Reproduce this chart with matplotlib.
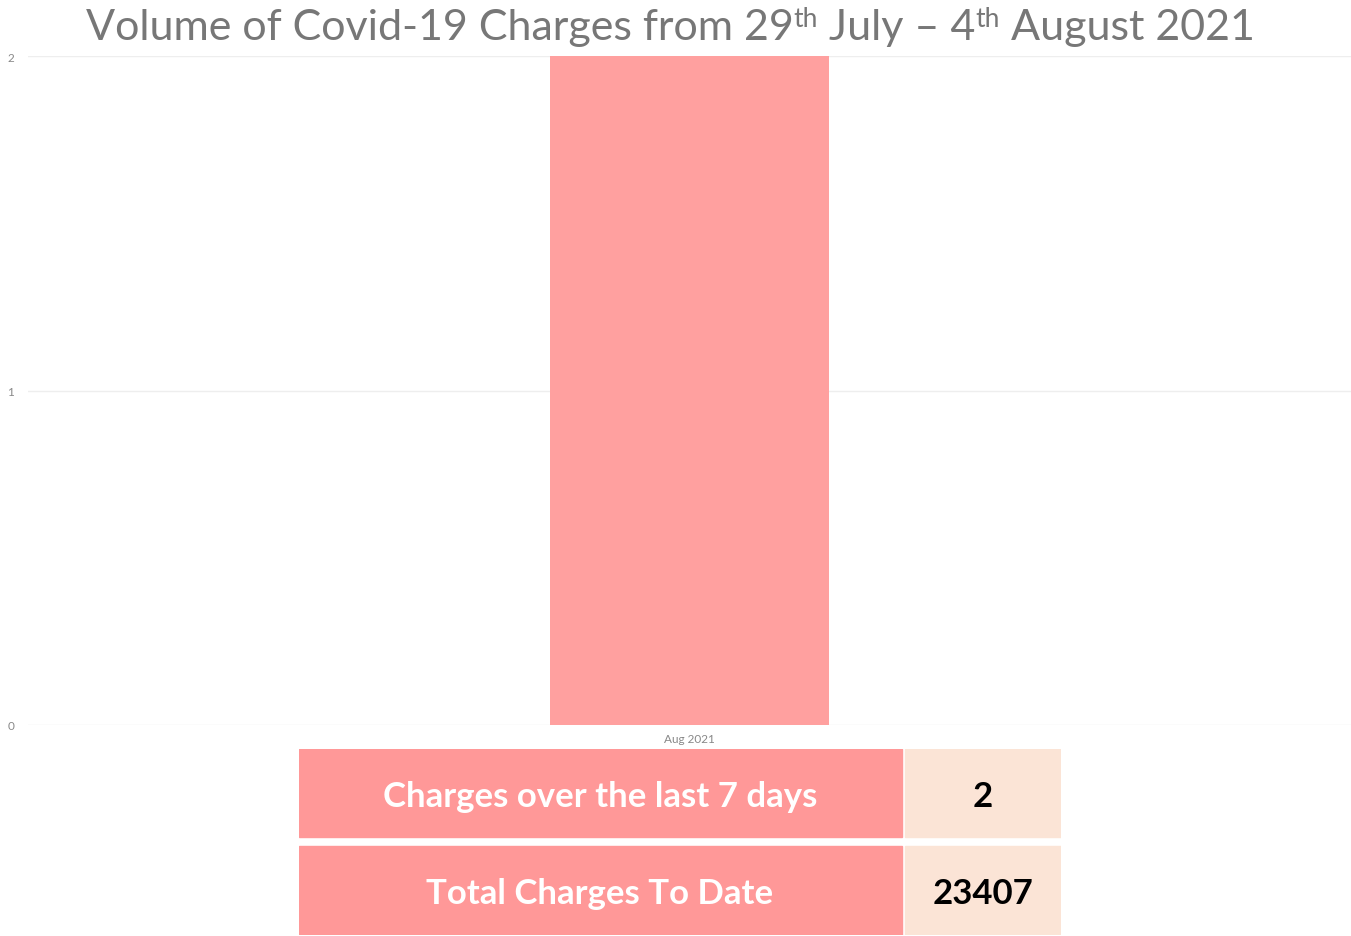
import matplotlib.pyplot as plt
from matplotlib.patches import Rectangle

plt.rcParams['font.family'] = ['Lato', 'DejaVu Sans']

# data
months = ["Aug 2021"]
charges = [2]
y_ticks = [0, 1, 2]
summary_labels = ["Charges over the last 7 days", "Total Charges To Date"]
summary_values = ["2", "23407"]
title_parts = [("Volume of Covid-19 Charges from 29", False), ("th", True),
               (" July – 4", False), ("th", True), (" August 2021", False)]

BAR_COLOR = "#FFA09F"
CELL_COLOR = "#FF9898"
VALUE_COLOR = "#FBE4D6"
W, H = 1351, 937

fig = plt.figure(figsize=(W / 100, H / 100), dpi=100)

ax = fig.add_axes([28 / W, 1 - 726 / H, 1 - 28 / W, (726 - 57) / H])
ax.bar(range(len(months)), charges, width=0.211, color=BAR_COLOR, zorder=2)
ax.set_xlim(-0.5, 0.5)
ax.set_ylim(0, 2)
ax.set_yticks(y_ticks)
ax.set_yticklabels([str(v) for v in y_ticks])
ax.set_xticks(range(len(months)))
ax.set_xticklabels(months)
ax.tick_params(length=0, labelsize=8.5, labelcolor="#888888")
ax.tick_params(axis="y", pad=15)
ax.tick_params(axis="x", pad=6)
for lbl in ax.get_yticklabels():
    lbl.set_horizontalalignment("left")
ax.grid(axis="y", color="#EEEEEE", linewidth=1, zorder=0)
for s in ax.spines.values():
    s.set_visible(False)

# title built from pieces so the "th" sits like a superscript
renderer = fig.canvas.get_renderer()
texts = []
for part, sup in title_parts:
    t = fig.text(0, 0, part, fontsize=19 if sup else 31, color="#777777",
                 ha="left", va="baseline", transform=None)
    texts.append((t, sup))
widths = [t.get_window_extent(renderer).width for t, _ in texts]
x = 670 - sum(widths) / 2
base_y = H - 40
for (t, sup), w in zip(texts, widths):
    t.set_position((x, base_y + (13 if sup else 0)))
    x += w

# summary table below the chart
tax = fig.add_axes([299 / W, 1 / H, 762 / W, 186 / H])
tax.set_xlim(0, 762)
tax.set_ylim(0, 186)
tax.axis("off")
row_h = [88, 89]
row_y = [98, 0]
for i, (lab, val) in enumerate(zip(summary_labels, summary_values)):
    y0 = row_y[i]
    h = row_h[i]
    tax.add_patch(Rectangle((0, y0), 603, h, color=CELL_COLOR))
    tax.add_patch(Rectangle((606, y0), 156, h, color=VALUE_COLOR))
    tax.text(301, y0 + h / 2 - 3, lab, ha="center", va="center",
             fontsize=25, color="white", fontweight="bold")
    tax.text(684, y0 + h / 2 - 3, val, ha="center", va="center",
             fontsize=25, color="black", fontweight="bold")

fig.savefig("out.png", dpi=100)
